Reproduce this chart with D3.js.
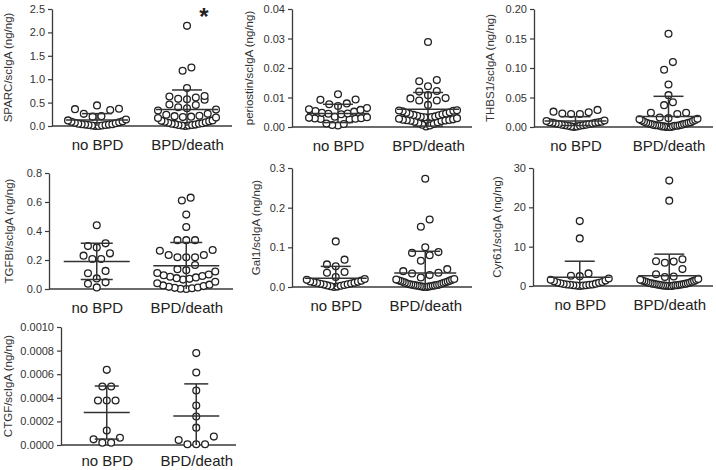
<!DOCTYPE html>
<html><head><meta charset="utf-8">
<script src="https://cdn.jsdelivr.net/npm/d3@7"></script>
<style>body{margin:0;background:#fff}svg{display:block}</style>
</head><body>
<svg id="chart" width="716" height="470"></svg>
<script>
// ---------- DATA ----------
const categories = ["no BPD", "BPD/death"];

const sparcNoBPD = [0.00,0.00,0.01,0.01,0.02,0.02,0.03,0.03,0.04,0.04,0.05,0.06,0.07,0.08,0.09,0.10,0.12,0.14,0.20,0.21,0.26,0.34,0.36,0.37,0.44];
const sparcBPD = [0.00,0.01,0.01,0.02,0.02,0.03,0.04,0.05,0.05,0.06,0.07,0.08,0.09,0.10,0.11,0.12,0.17,0.18,0.19,0.20,0.21,0.22,0.24,0.26,0.33,0.35,0.38,0.40,0.45,0.46,0.56,0.57,0.58,0.61,0.63,0.64,0.81,1.18,1.25,2.14];
const sparcMean = [0.13, 0.35];
const sparcSD = [0.135, 0.42];
const sparcTicks = [0, 0.5, 1.0, 1.5, 2.0, 2.5];

const periostinNoBPD = [0.0005,0.0007,0.0010,0.0012,0.0026,0.0027,0.0028,0.0029,0.0030,0.0031,0.0033,0.0035,0.0043,0.0045,0.0046,0.0048,0.0052,0.0054,0.0058,0.0060,0.0064,0.0071,0.0077,0.0080,0.0092,0.0093,0.0111];
const periostinBPD = [0.0002,0.0005,0.0008,0.0010,0.0013,0.0016,0.0018,0.0020,0.0021,0.0022,0.0023,0.0024,0.0025,0.0026,0.0028,0.0030,0.0032,0.0033,0.0034,0.0035,0.0036,0.0038,0.0040,0.0041,0.0043,0.0044,0.0046,0.0048,0.0050,0.0053,0.0055,0.0056,0.0057,0.0075,0.0090,0.0090,0.0097,0.0098,0.0108,0.0120,0.0122,0.0138,0.0155,0.0159,0.0288];
const periostinMean = [0.0046, 0.0060];
const periostinSD = [0.0031, 0.0057];
const periostinTicks = [0, 0.01, 0.02, 0.03, 0.04];

const thbs1NoBPD = [0.000,0.001,0.001,0.002,0.002,0.003,0.003,0.004,0.004,0.005,0.005,0.006,0.006,0.007,0.007,0.008,0.008,0.009,0.010,0.011,0.022,0.022,0.023,0.025,0.026,0.029];
const thbs1BPD = [0.000,0.000,0.000,0.001,0.001,0.001,0.002,0.002,0.002,0.003,0.003,0.003,0.004,0.004,0.005,0.005,0.006,0.006,0.007,0.007,0.008,0.009,0.010,0.011,0.012,0.013,0.014,0.015,0.016,0.022,0.024,0.024,0.037,0.042,0.054,0.072,0.097,0.110,0.158];
const thbs1Mean = [0.010, 0.018];
const thbs1SD = [0.0075, 0.034];
const thbs1Ticks = [0, 0.05, 0.10, 0.15, 0.20];

const tgfbiNoBPD = [0.011,0.036,0.046,0.073,0.109,0.125,0.207,0.207,0.230,0.246,0.287,0.296,0.315,0.440];
const tgfbiBPD = [0.000,0.002,0.005,0.008,0.010,0.015,0.020,0.025,0.030,0.040,0.050,0.065,0.070,0.075,0.080,0.085,0.090,0.095,0.100,0.110,0.121,0.130,0.137,0.166,0.219,0.219,0.219,0.235,0.235,0.264,0.269,0.337,0.337,0.337,0.428,0.513,0.610,0.630];
const tgfbiMean = [0.19, 0.16];
const tgfbiSD = [0.125, 0.161];
const tgfbiTicks = [0, 0.2, 0.4, 0.6, 0.8];

const gal1NoBPD = [0.000,0.001,0.002,0.003,0.004,0.005,0.006,0.007,0.008,0.009,0.010,0.011,0.012,0.013,0.014,0.016,0.018,0.020,0.025,0.036,0.038,0.052,0.057,0.069,0.115];
const gal1BPD = [0.000,0.000,0.001,0.001,0.002,0.002,0.003,0.003,0.004,0.004,0.005,0.005,0.006,0.006,0.007,0.008,0.009,0.010,0.011,0.012,0.013,0.014,0.015,0.016,0.017,0.018,0.019,0.020,0.024,0.030,0.034,0.036,0.040,0.045,0.066,0.080,0.086,0.088,0.100,0.152,0.170,0.273];
const gal1Mean = [0.022, 0.035];
const gal1SD = [0.030, 0.055];
const gal1Ticks = [0, 0.1, 0.2, 0.3];

const cyr61NoBPD = [0.0,0.1,0.1,0.2,0.2,0.3,0.3,0.4,0.4,0.5,0.6,0.7,0.8,0.9,1.0,1.2,1.4,1.6,1.9,2.5,2.6,3.2,12.1,16.5];
const cyr61BPD = [0.0,0.0,0.0,0.1,0.1,0.1,0.2,0.2,0.2,0.3,0.3,0.4,0.4,0.5,0.5,0.6,0.6,0.7,0.7,0.8,0.9,1.0,1.1,1.2,1.3,1.4,1.5,1.6,1.8,2.3,2.4,3.0,4.3,5.9,6.2,6.3,6.8,21.7,26.8];
const cyr61Mean = [2.2, 2.6];
const cyr61SD = [4.1, 5.5];
const cyr61Ticks = [0, 10, 20, 30];

const ctgfNoBPD = [0.00002,0.00002,0.000048,0.000062,0.000122,0.000377,0.000377,0.000377,0.000496,0.000496,0.000637];
const ctgfBPD = [0.000006,0.000006,0.000006,0.000071,0.000042,0.000147,0.000241,0.000334,0.000462,0.000615,0.000779];
const ctgfMean = [0.000275, 0.000245];
const ctgfSD = [0.000225, 0.000273];
const ctgfTicks = [0, 0.0002, 0.0004, 0.0006, 0.0008, 0.0010];

// ---------- PANELS (data + layout) ----------
const panels = [
  {title:"SPARC/scIgA (ng/ng)", groups:[sparcNoBPD,sparcBPD], mean:sparcMean, sd:sparcSD, ticks:sparcTicks, fmt:".1f",
   ax:52, ar:232, top:9, bot:126, cat:[52,232], titleX:8, labDy:24, mw:31, cw:15, star:true},
  {title:"periostin/scIgA (ng/ng)", groups:[periostinNoBPD,periostinBPD], mean:periostinMean, sd:periostinSD, ticks:periostinTicks, fmt:".2f",
   ax:292, ar:472, top:9, bot:127, cat:[293,473], titleX:249, labDy:24, mw:31, cw:15},
  {title:"THBS1/scIgA (ng/ng)", groups:[thbs1NoBPD,thbs1BPD], mean:thbs1Mean, sd:thbs1SD, ticks:thbs1Ticks, fmt:".2f",
   ax:534, ar:713, top:9, bot:127, cat:[529,715], titleX:490, labDy:24, mw:31, cw:15},
  {title:"TGFBI/scIgA (ng/ng)", groups:[tgfbiNoBPD,tgfbiBPD], mean:tgfbiMean, sd:tgfbiSD, ticks:tgfbiTicks, fmt:".1f",
   ax:49, ar:233, top:173, bot:289, cat:[52,231], titleX:9, labDy:24, mw:33, cw:16},
  {title:"Gal1/scIgA (ng/ng)", groups:[gal1NoBPD,gal1BPD], mean:gal1Mean, sd:gal1SD, ticks:gal1Ticks, fmt:".1f",
   ax:292, ar:472, top:168, bot:287, cat:[291,470], titleX:256, labDy:24, mw:31, cw:15},
  {title:"Cyr61/scIgA (ng/ng)", groups:[cyr61NoBPD,cyr61BPD], mean:cyr61Mean, sd:cyr61SD, ticks:cyr61Ticks, fmt:"d",
   ax:533, ar:713, top:168, bot:286, cat:[535,714], titleX:497, labDy:24, mw:31, cw:15},
  {title:"CTGF/scIgA (ng/ng)", groups:[ctgfNoBPD,ctgfBPD], mean:ctgfMean, sd:ctgfSD, ticks:ctgfTicks, fmt:".4f",
   ax:61, ar:236, top:327, bot:445, cat:[62,241], titleX:8, labDy:21, mw:23, cw:12}
];

const FONT = "'Liberation Sans', Arial, Helvetica, sans-serif";
const svg = d3.select("#chart");
const R = 3.4, ROWH = 8.8, SPACING = 8.8, MAXHALF = 29;

function swarm(values, y) {
  const s = values.map(v => ({v, y: y(v)})).sort((a, b) => a.v - b.v);
  const out = [];
  let i = 0;
  while (i < s.length) {
    const start = s[i].y, row = [];
    while (i < s.length && start - s[i].y <= ROWH) { row.push(s[i]); i++; }
    const n = row.length;
    const sp = n > 1 ? Math.min(SPACING, 2 * MAXHALF / (n - 1)) : 0;
    row.forEach((p, k) => {
      let slot;
      if (n % 2 === 1) { slot = k === 0 ? 0 : (k % 2 === 1 ? -Math.ceil(k / 2) : Math.ceil(k / 2)); }
      else { const m = Math.floor(k / 2) + 0.5; slot = k % 2 === 0 ? -m : m; }
      out.push({v: p.v, y: p.y, dx: slot * sp});
    });
  }
  return out;
}

panels.forEach(p => {
  const g = svg.append("g");
  const dom = [p.ticks[0], p.ticks[p.ticks.length - 1]];
  const y = d3.scaleLinear().domain(dom).range([p.bot, p.top]);
  const x = d3.scalePoint().domain(categories).range(p.cat).padding(0.5);

  // y axis
  const yAxis = d3.axisLeft(y).tickValues(p.ticks).tickFormat(d3.format(p.fmt)).tickSize(4).tickSizeOuter(0).tickPadding(3);
  const ya = g.append("g").attr("transform", `translate(${p.ax},0)`).call(yAxis);
  ya.select(".domain").attr("stroke", "#3a3a3a").attr("stroke-width", 1.3);
  ya.selectAll(".tick line").attr("stroke", "#3a3a3a").attr("stroke-width", 1.2);
  ya.selectAll(".tick text").attr("fill", "#333").style("font-family", FONT).style("font-size", "11px");

  // x axis line
  const xAxis = d3.axisBottom(x).tickSize(0).tickSizeOuter(0).tickPadding(p.labDy - 12);
  const xa = g.append("g").attr("transform", `translate(0,${p.bot})`).call(xAxis);
  xa.select(".domain").attr("d", `M${p.ax},0H${p.ar}`).attr("stroke", "#3a3a3a").attr("stroke-width", 1.3);
  xa.selectAll(".tick text").attr("fill", "#222").attr("dy", "0").attr("y", p.labDy)
    .style("font-family", FONT).style("font-size", "15px");

  // y title
  g.append("text")
    .attr("transform", `translate(${p.titleX},${(p.top + p.bot) / 2}) rotate(-90)`)
    .attr("text-anchor", "middle").attr("dominant-baseline", "central")
    .attr("fill", "#333").style("font-family", FONT).style("font-size", "11.5px")
    .text(p.title);

  // points
  p.groups.forEach((vals, gi) => {
    const cx = x(categories[gi]);
    const pts = swarm(vals, y);
    g.append("g").selectAll("circle").data(pts).join("circle")
      .attr("cx", d => cx + d.dx).attr("cy", d => d.y).attr("r", R)
      .attr("fill", "#fff").attr("stroke", "#222").attr("stroke-width", 1.3);

    // mean and SD
    const m = p.mean[gi], s = p.sd[gi];
    const lo = Math.max(m - s, dom[0]), hi = m + s;
    const lg = g.append("g").attr("stroke", "#333").attr("stroke-width", 1.5);
    lg.append("line").attr("x1", cx - p.mw).attr("x2", cx + p.mw).attr("y1", y(m)).attr("y2", y(m));
    lg.append("line").attr("x1", cx).attr("x2", cx).attr("y1", y(lo)).attr("y2", y(hi));
    lg.append("line").attr("x1", cx - p.cw).attr("x2", cx + p.cw).attr("y1", y(hi)).attr("y2", y(hi));
    if (m - s > dom[0]) {
      lg.append("line").attr("x1", cx - p.cw).attr("x2", cx + p.cw).attr("y1", y(lo)).attr("y2", y(lo));
    }
  });

  if (p.star) {
    g.append("text").attr("x", x(categories[1]) + 17).attr("y", 25)
      .attr("text-anchor", "middle").attr("fill", "#222")
      .style("font-family", FONT).style("font-size", "24px").style("font-weight", "bold")
      .text("*");
  }
});
</script>
</body></html>
